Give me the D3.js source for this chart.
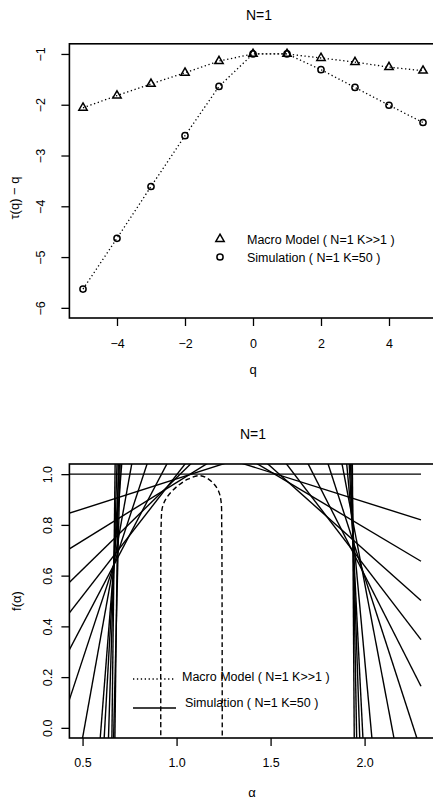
<!DOCTYPE html>
<html>
<head>
<meta charset="utf-8">
<script src="https://cdnjs.cloudflare.com/ajax/libs/d3/7.8.5/d3.min.js"></script>
<style>
body { margin: 0; background: #fff; }
svg { display: block; font-family: "Liberation Sans", Arial, sans-serif; }
</style>
</head>
<body>
<svg id="chart" width="433" height="803"></svg>
<script>
// top panel: tau(q) - q
var qVals = [-5, -4, -3, -2, -1, 0, 1, 2, 3, 4, 5];
var macroTau = [-2.06, -1.82, -1.59, -1.37, -1.14, -1.00, -1.00, -1.08, -1.16, -1.26, -1.33];
var simTau = [-5.63, -4.63, -3.61, -2.61, -1.64, -1.00, -1.00, -1.31, -1.66, -2.01, -2.35];
var qTicks = [-4, -2, 0, 2, 4];
var tauTicks = [-6, -5, -4, -3, -2, -1];

// bottom panel: lines f = q*alpha - tau(q)
var lineQ = [0, 0.2375, 0.459, 0.724, 0.954, 1.413, 2.249, 4.13, 9.45, 13.3, 23.8, 30.9, 62.7, 60,
             -0.234, -0.441, -0.661, -0.968, -1.46, -2.288, -3.913, -8.06, -14.79, -22.04, -41.5, -108];
var lineTau = [-1, -0.744, -0.508, -0.262, -0.043, 0.300, 0.856, 2.105, 5.653, 8.22, 15.22, 20.59, 41.17, 40.36,
               -1.358, -1.671, -2.022, -2.574, -3.522, -5.172, -8.397, -16.394, -29.41, -43.47, -81.21, -210.02];
var lineAlphaRange = [0.3, 2.30];
// macro model f(alpha) curve
var macroAlpha = [0.916, 0.916, 0.918, 0.925, 0.95, 1.0, 1.06, 1.12, 1.16, 1.20, 1.225, 1.237, 1.24, 1.242, 1.243];
var macroF = [-0.06, 0.60, 0.80, 0.87, 0.91, 0.95, 0.98, 0.994, 0.985, 0.96, 0.93, 0.89, 0.80, 0.50, -0.06];
var alphaTicks = [0.5, 1.0, 1.5, 2.0];
var fTicks = [0, 0.2, 0.4, 0.6, 0.8, 1.0];
var legendLabels = ["Macro Model ( N=1 K>>1 )", "Simulation ( N=1 K=50 )"];

var svg = d3.select("#chart");
var left = 69.4, right = 436.6;

// ---------- top plot ----------
var x1 = d3.scaleLinear().domain([-5.4, 5.4]).range([left, right]);
var y1 = d3.scaleLinear().domain([-6.2, -0.8]).range([318, 43.8]);

var gTop = svg.append("g");

gTop.append("g")
  .attr("transform", "translate(0,318)")
  .call(d3.axisBottom(x1).tickValues(qTicks).tickSize(8).tickPadding(13))
  .call(function(g) { g.select(".domain").remove(); })
  .selectAll("text").attr("font-size", 12.5).attr("fill", "#000");

var ya = gTop.append("g")
  .attr("transform", "translate(" + left + ",0)")
  .call(d3.axisLeft(y1).tickValues(tauTicks).tickFormat(d3.format("d")).tickSize(8))
  .call(function(g) { g.select(".domain").remove(); });
ya.selectAll("text")
  .attr("transform", "rotate(-90)")
  .attr("x", 0).attr("y", -24).attr("dy", 0)
  .attr("text-anchor", "middle")
  .attr("font-size", 12.5).attr("fill", "#000");

gTop.selectAll(".tick line").attr("stroke", "#000").attr("stroke-width", 1.3);

var line1 = d3.line()
  .x(function(d, i) { return x1(qVals[i]); })
  .y(function(d) { return y1(d); });

gTop.append("path").datum(macroTau)
  .attr("d", line1).attr("fill", "none").attr("stroke", "#000")
  .attr("stroke-width", 1.3).attr("stroke-dasharray", "1.3,2.6");
gTop.append("path").datum(simTau)
  .attr("d", line1).attr("fill", "none").attr("stroke", "#000")
  .attr("stroke-width", 1.3).attr("stroke-dasharray", "1.3,2.6");

var tri = d3.symbol().type(d3.symbolTriangle).size(30);
gTop.selectAll(".tri").data(macroTau).enter().append("path")
  .attr("d", tri)
  .attr("transform", function(d, i) { return "translate(" + x1(qVals[i]) + "," + y1(d) + ")"; })
  .attr("fill", "none").attr("stroke", "#000").attr("stroke-width", 1.5);

gTop.selectAll(".circ").data(simTau).enter().append("circle")
  .attr("cx", function(d, i) { return x1(qVals[i]); })
  .attr("cy", function(d) { return y1(d); })
  .attr("r", 3.1)
  .attr("fill", "none").attr("stroke", "#000").attr("stroke-width", 1.5);

gTop.append("rect")
  .attr("x", left).attr("y", 43.8).attr("width", right - left).attr("height", 318 - 43.8)
  .attr("fill", "none").attr("stroke", "#000").attr("stroke-width", 1.6);

gTop.append("text").attr("x", 259).attr("y", 19.5).attr("text-anchor", "middle")
  .attr("font-size", 14).text("N=1");
gTop.append("text").attr("x", 253).attr("y", 374).attr("text-anchor", "middle")
  .attr("font-size", 13).text("q");
gTop.append("text").attr("transform", "translate(19,198) rotate(-90)")
  .attr("text-anchor", "middle").attr("font-size", 13).text("\u03c4(q) \u2212 q");

// legend (top)
gTop.append("path").attr("d", tri)
  .attr("transform", "translate(220,239)")
  .attr("fill", "none").attr("stroke", "#000").attr("stroke-width", 1.5);
gTop.append("circle").attr("cx", 220).attr("cy", 257).attr("r", 3.1)
  .attr("fill", "none").attr("stroke", "#000").attr("stroke-width", 1.5);
gTop.append("text").attr("x", 247).attr("y", 243.5).attr("font-size", 12.5).text(legendLabels[0]);
gTop.append("text").attr("x", 247).attr("y", 261.5).attr("font-size", 12.5).text(legendLabels[1]);

// ---------- bottom plot ----------
var bTop = 464, bBot = 738;
var x2 = d3.scaleLinear().domain([0.43, 2.383]).range([left, right]);
var y2 = d3.scaleLinear().domain([-0.04, 1.04]).range([bBot, bTop]);

var gBot = svg.append("g");

svg.append("defs").append("clipPath").attr("id", "clipB")
  .append("rect").attr("x", left).attr("y", bTop).attr("width", right - left).attr("height", bBot - bTop);

gBot.append("g")
  .attr("transform", "translate(0," + bBot + ")")
  .call(d3.axisBottom(x2).tickValues(alphaTicks).tickFormat(d3.format(".1f")).tickSize(8).tickPadding(12))
  .call(function(g) { g.select(".domain").remove(); })
  .selectAll("text").attr("font-size", 12.5).attr("fill", "#000");

var yb = gBot.append("g")
  .attr("transform", "translate(" + left + ",0)")
  .call(d3.axisLeft(y2).tickValues(fTicks).tickFormat(d3.format(".1f")).tickSize(8))
  .call(function(g) { g.select(".domain").remove(); });
yb.selectAll("text")
  .attr("transform", "rotate(-90)")
  .attr("x", 0).attr("y", -17).attr("dy", 0)
  .attr("text-anchor", "middle")
  .attr("font-size", 12.5).attr("fill", "#000");
gBot.selectAll(".tick line").attr("stroke", "#000").attr("stroke-width", 1.3);

var plotB = gBot.append("g").attr("clip-path", "url(#clipB)");

plotB.selectAll(".leg").data(lineQ).enter().append("line")
  .attr("x1", x2(lineAlphaRange[0]))
  .attr("y1", function(q, i) { return y2(q * lineAlphaRange[0] - lineTau[i]); })
  .attr("x2", x2(lineAlphaRange[1]))
  .attr("y2", function(q, i) { return y2(q * lineAlphaRange[1] - lineTau[i]); })
  .attr("stroke", "#000").attr("stroke-width", 1.4);

plotB.append("path").datum(macroF)
  .attr("d", d3.line().x(function(d, i) { return x2(macroAlpha[i]); }).y(function(d) { return y2(d); }).curve(d3.curveCatmullRom))
  .attr("fill", "none").attr("stroke", "#000").attr("stroke-width", 1.4)
  .attr("stroke-dasharray", "5,3");

gBot.append("rect")
  .attr("x", left).attr("y", bTop).attr("width", right - left).attr("height", bBot - bTop)
  .attr("fill", "none").attr("stroke", "#000").attr("stroke-width", 1.6);

gBot.append("text").attr("x", 253).attr("y", 439).attr("text-anchor", "middle")
  .attr("font-size", 14).text("N=1");
gBot.append("text").attr("x", 252).attr("y", 797).attr("text-anchor", "middle")
  .attr("font-size", 13).text("\u03b1");
gBot.append("text").attr("transform", "translate(21,601) rotate(-90)")
  .attr("text-anchor", "middle").attr("font-size", 13).text("f(\u03b1)");

// legend (bottom)
gBot.append("line").attr("x1", 133).attr("x2", 175).attr("y1", 679).attr("y2", 679)
  .attr("stroke", "#000").attr("stroke-width", 1.3).attr("stroke-dasharray", "1.3,2.6");
gBot.append("line").attr("x1", 133).attr("x2", 176).attr("y1", 708).attr("y2", 708)
  .attr("stroke", "#000").attr("stroke-width", 1.3);
gBot.append("text").attr("x", 182).attr("y", 681).attr("font-size", 12.5).text(legendLabels[0]);
gBot.append("text").attr("x", 185).attr("y", 707).attr("font-size", 12.5).text(legendLabels[1]);
</script>
</body>
</html>
